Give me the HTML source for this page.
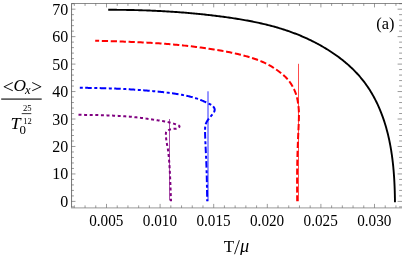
<!DOCTYPE html>
<html><head><meta charset="utf-8"><style>
html,body{margin:0;padding:0;background:#fff;}
body{width:402px;height:257px;overflow:hidden;}
svg{display:block;will-change:transform;}
text{font-family:"Liberation Serif",serif;fill:#000;}
</style></head><body>
<svg width="402" height="257" viewBox="0 0 402 257">

<path d="M71.55,208.0 V3.5 " stroke="#767676" stroke-width="1" fill="none"/><path d="M71.05,3.5 H402" stroke="#8c8c8c" stroke-width="1" fill="none"/>
<path d="M71.05,207.8 H402" stroke="#adadad" stroke-width="1.3" fill="none"/>
<path d="M74.34,207.8 v-2.4 M74.34,3.5 v2.4 M85.06,207.8 v-2.4 M85.06,3.5 v2.4 M95.78,207.8 v-2.4 M95.78,3.5 v2.4 M106.50,207.8 v-3.9 M106.50,3.5 v3.9 M117.22,207.8 v-2.4 M117.22,3.5 v2.4 M127.94,207.8 v-2.4 M127.94,3.5 v2.4 M138.66,207.8 v-2.4 M138.66,3.5 v2.4 M149.38,207.8 v-2.4 M149.38,3.5 v2.4 M160.10,207.8 v-3.9 M160.10,3.5 v3.9 M170.82,207.8 v-2.4 M170.82,3.5 v2.4 M181.54,207.8 v-2.4 M181.54,3.5 v2.4 M192.26,207.8 v-2.4 M192.26,3.5 v2.4 M202.98,207.8 v-2.4 M202.98,3.5 v2.4 M213.70,207.8 v-3.9 M213.70,3.5 v3.9 M224.42,207.8 v-2.4 M224.42,3.5 v2.4 M235.14,207.8 v-2.4 M235.14,3.5 v2.4 M245.86,207.8 v-2.4 M245.86,3.5 v2.4 M256.58,207.8 v-2.4 M256.58,3.5 v2.4 M267.30,207.8 v-3.9 M267.30,3.5 v3.9 M278.02,207.8 v-2.4 M278.02,3.5 v2.4 M288.74,207.8 v-2.4 M288.74,3.5 v2.4 M299.46,207.8 v-2.4 M299.46,3.5 v2.4 M310.18,207.8 v-2.4 M310.18,3.5 v2.4 M320.90,207.8 v-3.9 M320.90,3.5 v3.9 M331.62,207.8 v-2.4 M331.62,3.5 v2.4 M342.34,207.8 v-2.4 M342.34,3.5 v2.4 M353.06,207.8 v-2.4 M353.06,3.5 v2.4 M363.78,207.8 v-2.4 M363.78,3.5 v2.4 M374.50,207.8 v-3.9 M374.50,3.5 v3.9 M385.22,207.8 v-2.4 M385.22,3.5 v2.4 M395.94,207.8 v-2.4 M395.94,3.5 v2.4 M71.55,206.89 h2.4 M402.4,206.89 h-3.3 M71.55,201.40 h3.9 M402.4,201.40 h-4.8 M71.55,195.91 h2.4 M402.4,195.91 h-3.3 M71.55,190.42 h2.4 M402.4,190.42 h-3.3 M71.55,184.92 h2.4 M402.4,184.92 h-3.3 M71.55,179.43 h2.4 M402.4,179.43 h-3.3 M71.55,173.94 h3.9 M402.4,173.94 h-4.8 M71.55,168.45 h2.4 M402.4,168.45 h-3.3 M71.55,162.96 h2.4 M402.4,162.96 h-3.3 M71.55,157.46 h2.4 M402.4,157.46 h-3.3 M71.55,151.97 h2.4 M402.4,151.97 h-3.3 M71.55,146.48 h3.9 M402.4,146.48 h-4.8 M71.55,140.99 h2.4 M402.4,140.99 h-3.3 M71.55,135.50 h2.4 M402.4,135.50 h-3.3 M71.55,130.00 h2.4 M402.4,130.00 h-3.3 M71.55,124.51 h2.4 M402.4,124.51 h-3.3 M71.55,119.02 h3.9 M402.4,119.02 h-4.8 M71.55,113.53 h2.4 M402.4,113.53 h-3.3 M71.55,108.04 h2.4 M402.4,108.04 h-3.3 M71.55,102.54 h2.4 M402.4,102.54 h-3.3 M71.55,97.05 h2.4 M402.4,97.05 h-3.3 M71.55,91.56 h3.9 M402.4,91.56 h-4.8 M71.55,86.07 h2.4 M402.4,86.07 h-3.3 M71.55,80.58 h2.4 M402.4,80.58 h-3.3 M71.55,75.08 h2.4 M402.4,75.08 h-3.3 M71.55,69.59 h2.4 M402.4,69.59 h-3.3 M71.55,64.10 h3.9 M402.4,64.10 h-4.8 M71.55,58.61 h2.4 M402.4,58.61 h-3.3 M71.55,53.12 h2.4 M402.4,53.12 h-3.3 M71.55,47.62 h2.4 M402.4,47.62 h-3.3 M71.55,42.13 h2.4 M402.4,42.13 h-3.3 M71.55,36.64 h3.9 M402.4,36.64 h-4.8 M71.55,31.15 h2.4 M402.4,31.15 h-3.3 M71.55,25.66 h2.4 M402.4,25.66 h-3.3 M71.55,20.16 h2.4 M402.4,20.16 h-3.3 M71.55,14.67 h2.4 M402.4,14.67 h-3.3 M71.55,9.18 h3.9 M402.4,9.18 h-4.8 M71.55,3.69 h2.4 M402.4,3.69 h-3.3" stroke="#555" stroke-width="0.6" fill="none"/>
<g fill="none" stroke-linecap="butt" stroke-linejoin="round">
<path d="M298.5,63.8 V201.2" stroke="#ff0000" stroke-width="1" stroke-opacity="0.7"/>
<path d="M208.0,91.3 V201.2" stroke="#0000ff" stroke-width="1" stroke-opacity="0.82"/>
<path d="M169.5,119.0 V200.5" stroke="#800080" stroke-width="1" stroke-opacity="0.68"/>
<path d="M108.20,9.80 L109.54,9.80 L110.88,9.80 L112.23,9.81 L113.57,9.81 L114.91,9.81 L116.25,9.82 L117.60,9.83 L118.94,9.84 L120.28,9.85 L121.62,9.87 L122.96,9.88 L124.31,9.90 L125.65,9.92 L126.99,9.94 L128.33,9.96 L129.67,9.99 L131.01,10.01 L132.36,10.04 L133.70,10.07 L135.04,10.10 L136.38,10.14 L137.72,10.17 L139.06,10.21 L140.40,10.25 L141.75,10.29 L143.09,10.33 L144.43,10.37 L145.77,10.42 L147.11,10.47 L148.45,10.52 L149.79,10.57 L151.13,10.63 L152.47,10.68 L153.81,10.74 L155.15,10.80 L156.49,10.86 L157.83,10.93 L159.17,10.99 L160.51,11.06 L161.85,11.13 L163.19,11.21 L164.53,11.28 L165.87,11.36 L167.21,11.43 L168.55,11.52 L169.89,11.60 L171.23,11.68 L172.57,11.77 L173.90,11.86 L175.24,11.95 L176.58,12.05 L177.92,12.14 L179.26,12.24 L180.59,12.34 L181.93,12.44 L183.27,12.55 L184.61,12.66 L185.94,12.76 L187.28,12.88 L188.62,12.99 L189.95,13.11 L191.29,13.23 L192.63,13.35 L193.96,13.47 L195.30,13.60 L196.63,13.72 L197.97,13.85 L199.30,13.99 L200.64,14.12 L201.97,14.26 L203.31,14.40 L204.64,14.54 L205.98,14.69 L207.31,14.84 L208.65,14.99 L209.98,15.14 L211.31,15.29 L212.65,15.45 L213.98,15.61 L215.31,15.77 L216.64,15.94 L217.98,16.11 L219.31,16.28 L220.64,16.45 L221.97,16.63 L223.30,16.80 L224.63,16.98 L225.96,17.17 L227.29,17.35 L228.62,17.54 L229.95,17.74 L231.28,17.93 L232.61,18.13 L233.94,18.33 L235.27,18.53 L236.60,18.74 L237.92,18.95 L239.25,19.17 L240.57,19.39 L241.90,19.61 L243.22,19.84 L244.55,20.07 L245.87,20.31 L247.19,20.55 L248.51,20.79 L249.83,21.04 L251.14,21.30 L252.46,21.55 L253.78,21.82 L255.09,22.09 L256.40,22.36 L257.72,22.64 L259.03,22.92 L260.34,23.21 L261.64,23.51 L262.95,23.81 L264.25,24.12 L265.56,24.43 L266.86,24.75 L268.16,25.07 L269.46,25.40 L270.75,25.74 L272.05,26.08 L273.34,26.43 L274.63,26.79 L275.92,27.15 L277.21,27.52 L278.49,27.90 L279.78,28.29 L281.06,28.68 L282.33,29.08 L283.61,29.48 L284.89,29.90 L286.16,30.32 L287.43,30.75 L288.69,31.19 L289.96,31.63 L291.22,32.08 L292.48,32.55 L293.74,33.02 L294.99,33.49 L296.25,33.98 L297.49,34.47 L298.74,34.97 L299.98,35.48 L301.22,36.00 L302.46,36.53 L303.69,37.07 L304.92,37.61 L306.14,38.16 L307.37,38.72 L308.58,39.29 L309.80,39.87 L311.01,40.45 L312.21,41.04 L313.41,41.65 L314.61,42.26 L315.80,42.88 L316.99,43.50 L318.18,44.14 L319.36,44.78 L320.53,45.44 L321.70,46.10 L322.86,46.77 L324.02,47.45 L325.18,48.14 L326.33,48.83 L327.47,49.54 L328.61,50.25 L329.74,50.98 L330.87,51.71 L331.99,52.45 L333.10,53.20 L334.21,53.95 L335.31,54.72 L336.41,55.50 L337.50,56.28 L338.58,57.08 L339.66,57.88 L340.73,58.69 L341.79,59.51 L342.84,60.34 L343.89,61.19 L344.93,62.04 L345.95,62.90 L346.97,63.77 L347.98,64.64 L348.98,65.53 L349.97,66.43 L350.96,67.34 L351.93,68.26 L352.89,69.19 L353.84,70.13 L354.78,71.08 L355.70,72.04 L356.62,73.01 L357.53,73.99 L358.42,74.98 L359.31,75.99 L360.18,77.00 L361.04,78.02 L361.88,79.05 L362.72,80.09 L363.54,81.13 L364.35,82.19 L365.15,83.26 L365.94,84.34 L366.71,85.43 L367.47,86.52 L368.22,87.63 L368.95,88.74 L369.67,89.86 L370.38,90.99 L371.08,92.13 L371.76,93.28 L372.43,94.44 L373.09,95.60 L373.74,96.77 L374.38,97.95 L375.00,99.13 L375.61,100.32 L376.21,101.52 L376.80,102.72 L377.38,103.93 L377.94,105.15 L378.49,106.37 L379.04,107.60 L379.57,108.83 L380.09,110.07 L380.59,111.31 L381.09,112.56 L381.58,113.81 L382.05,115.07 L382.52,116.33 L382.97,117.60 L383.41,118.87 L383.84,120.14 L384.27,121.42 L384.68,122.70 L385.08,123.98 L385.47,125.27 L385.85,126.55 L386.22,127.85 L386.58,129.14 L386.93,130.44 L387.27,131.74 L387.61,133.04 L387.93,134.34 L388.24,135.65 L388.55,136.96 L388.84,138.27 L389.13,139.58 L389.41,140.90 L389.67,142.21 L389.94,143.53 L390.19,144.85 L390.43,146.18 L390.67,147.50 L390.90,148.83 L391.12,150.15 L391.33,151.48 L391.53,152.81 L391.73,154.14 L391.92,155.48 L392.11,156.81 L392.28,158.14 L392.45,159.48 L392.61,160.81 L392.77,162.15 L392.92,163.49 L393.06,164.83 L393.20,166.17 L393.33,167.51 L393.45,168.85 L393.57,170.19 L393.68,171.53 L393.79,172.87 L393.89,174.21 L393.99,175.55 L394.08,176.89 L394.16,178.23 L394.25,179.57 L394.32,180.91 L394.39,182.25 L394.46,183.59 L394.52,184.93 L394.58,186.27 L394.63,187.61 L394.68,188.94 L394.72,190.28 L394.77,191.62 L394.80,192.95 L394.84,194.28 L394.87,195.62 L394.89,196.95 L394.92,198.28 L394.94,199.60 L394.95,200.93 L394.97,202.26" stroke="#000" stroke-width="1.9"/>
<path d="M95.20,40.75 L96.83,40.79 L98.46,40.84 L100.09,40.88 L101.72,40.93 L103.35,40.97 L104.98,41.02 L106.62,41.06 L108.25,41.11 L109.88,41.16 L111.51,41.20 L113.14,41.25 L114.77,41.30 L116.40,41.35 L118.03,41.41 L119.66,41.46 L121.29,41.52 L122.92,41.57 L124.55,41.63 L126.18,41.69 L127.81,41.75 L129.44,41.81 L131.07,41.88 L132.70,41.94 L134.33,42.01 L135.96,42.08 L137.59,42.16 L139.22,42.23 L140.85,42.31 L142.48,42.39 L144.11,42.48 L145.73,42.56 L147.36,42.65 L148.99,42.74 L150.62,42.84 L152.25,42.93 L153.88,43.03 L155.50,43.14 L157.13,43.25 L158.76,43.36 L160.39,43.47 L162.01,43.59 L163.64,43.71 L165.27,43.83 L166.89,43.96 L168.52,44.09 L170.14,44.23 L171.77,44.37 L173.39,44.51 L175.02,44.65 L176.64,44.81 L178.27,44.96 L179.89,45.12 L181.51,45.28 L183.14,45.45 L184.76,45.62 L186.38,45.79 L188.00,45.97 L189.62,46.16 L191.24,46.35 L192.86,46.54 L194.48,46.74 L196.10,46.94 L197.72,47.14 L199.34,47.35 L200.95,47.57 L202.57,47.79 L204.18,48.02 L205.80,48.25 L207.41,48.48 L209.03,48.72 L210.64,48.97 L212.25,49.22 L213.86,49.48 L215.47,49.74 L217.08,50.00 L218.69,50.27 L220.30,50.55 L221.91,50.84 L223.51,51.12 L225.12,51.42 L226.72,51.72 L228.32,52.03 L229.92,52.35 L231.52,52.68 L233.12,53.02 L234.71,53.37 L236.30,53.72 L237.89,54.09 L239.48,54.47 L241.06,54.86 L242.64,55.27 L244.22,55.69 L245.79,56.12 L247.36,56.56 L248.92,57.02 L250.49,57.50 L252.04,57.99 L253.59,58.50 L255.14,59.02 L256.68,59.56 L258.22,60.13 L259.74,60.72 L261.25,61.33 L262.75,61.97 L264.24,62.64 L265.71,63.34 L267.16,64.08 L268.60,64.85 L270.02,65.64 L271.43,66.47 L272.82,67.32 L274.20,68.20 L275.57,69.10 L276.92,70.02 L278.26,70.97 L279.58,71.94 L280.88,72.94 L282.15,73.97 L283.39,75.04 L284.59,76.14 L285.76,77.28 L286.88,78.46 L287.95,79.69 L288.97,80.96 L289.95,82.27 L290.88,83.62 L291.76,85.00 L292.58,86.41 L293.36,87.85 L294.09,89.32 L294.76,90.81 L295.38,92.32 L295.93,93.86 L296.42,95.41 L296.85,96.98 L297.22,98.57 L297.55,100.17 L297.83,101.78 L298.07,103.40 L298.29,105.02 L298.49,106.64 L298.66,108.27 L298.79,109.89 L298.88,111.52 L298.93,113.15 L298.95,114.78 L298.93,116.41 L298.90,118.04 L298.86,119.67 L298.80,121.30 L298.74,122.93 L298.68,124.56 L298.61,126.19 L298.53,127.82 L298.46,129.45 L298.38,131.08 L298.31,132.71 L298.23,134.34 L298.16,135.97 L298.09,137.60 L298.02,139.23 L297.96,140.86 L297.89,142.49 L297.83,144.12 L297.77,145.75 L297.72,147.38 L297.66,149.01 L297.61,150.64 L297.55,152.27 L297.50,153.90 L297.46,155.53 L297.41,157.16 L297.37,158.79 L297.33,160.42 L297.29,162.05 L297.26,163.68 L297.23,165.32 L297.20,166.95 L297.18,168.58 L297.16,170.21 L297.14,171.84 L297.13,173.47 L297.12,175.10 L297.11,176.73 L297.10,178.36 L297.10,179.99 L297.10,181.63 L297.10,183.26 L297.10,184.89 L297.11,186.52 L297.11,188.15 L297.12,189.78 L297.13,191.41 L297.14,193.04 L297.15,194.67 L297.16,196.31 L297.18,197.94 L297.19,199.57 L297.20,201.20" stroke="#ff0000" stroke-width="2.0" stroke-dasharray="6.25 2.67" stroke-dashoffset="2.3"/>
<path d="M79.80,87.75 L80.58,87.76 L81.36,87.77 L82.15,87.79 L82.93,87.80 L83.71,87.81 L84.49,87.82 L85.28,87.83 L86.06,87.85 L86.84,87.86 L87.62,87.87 L88.41,87.89 L89.19,87.90 L89.97,87.91 L90.75,87.93 L91.54,87.94 L92.32,87.95 L93.10,87.97 L93.88,87.98 L94.66,88.00 L95.45,88.02 L96.23,88.03 L97.01,88.05 L97.79,88.06 L98.58,88.08 L99.36,88.10 L100.14,88.12 L100.92,88.14 L101.70,88.16 L102.49,88.18 L103.27,88.20 L104.05,88.22 L104.83,88.24 L105.61,88.26 L106.40,88.29 L107.18,88.31 L107.96,88.33 L108.74,88.36 L109.53,88.38 L110.31,88.41 L111.09,88.44 L111.87,88.47 L112.65,88.49 L113.43,88.52 L114.22,88.55 L115.00,88.59 L115.78,88.62 L116.56,88.65 L117.34,88.68 L118.13,88.72 L118.91,88.75 L119.69,88.79 L120.47,88.83 L121.25,88.87 L122.03,88.90 L122.82,88.94 L123.60,88.98 L124.38,89.02 L125.16,89.07 L125.94,89.11 L126.72,89.15 L127.50,89.20 L128.28,89.24 L129.06,89.29 L129.85,89.34 L130.63,89.39 L131.41,89.44 L132.19,89.49 L132.97,89.54 L133.75,89.59 L134.53,89.64 L135.31,89.70 L136.09,89.75 L136.87,89.81 L137.65,89.86 L138.43,89.92 L139.21,89.98 L139.99,90.04 L140.77,90.10 L141.55,90.16 L142.33,90.22 L143.11,90.28 L143.89,90.35 L144.67,90.41 L145.45,90.48 L146.23,90.54 L147.01,90.61 L147.79,90.67 L148.57,90.74 L149.35,90.81 L150.13,90.88 L150.91,90.95 L151.69,91.02 L152.47,91.09 L153.25,91.16 L154.03,91.24 L154.81,91.31 L155.58,91.38 L156.36,91.46 L157.14,91.53 L157.92,91.61 L158.70,91.69 L159.48,91.77 L160.26,91.85 L161.04,91.93 L161.82,92.01 L162.59,92.09 L163.37,92.18 L164.15,92.26 L164.93,92.35 L165.70,92.44 L166.48,92.53 L167.26,92.63 L168.04,92.72 L168.81,92.82 L169.59,92.92 L170.36,93.02 L171.14,93.12 L171.91,93.23 L172.69,93.33 L173.46,93.45 L174.24,93.56 L175.01,93.67 L175.79,93.79 L176.56,93.91 L177.33,94.04 L178.10,94.16 L178.87,94.29 L179.64,94.43 L180.42,94.56 L181.18,94.70 L181.95,94.85 L182.72,94.99 L183.49,95.14 L184.26,95.30 L185.02,95.46 L185.79,95.62 L186.55,95.79 L187.32,95.96 L188.08,96.14 L188.84,96.32 L189.60,96.50 L190.36,96.69 L191.12,96.89 L191.88,97.09 L192.64,97.30 L193.39,97.51 L194.14,97.73 L194.89,97.95 L195.64,98.18 L196.39,98.42 L197.13,98.67 L197.87,98.93 L198.60,99.19 L199.34,99.46 L200.07,99.74 L200.79,100.03 L201.51,100.33 L202.23,100.63 L202.95,100.94 L203.66,101.26 L204.38,101.58 L205.09,101.90 L205.80,102.23 L206.51,102.56 L207.22,102.90 L207.93,103.23 L208.64,103.57 L209.35,103.91 L210.06,104.26 L210.75,104.63 L211.42,105.04 L212.06,105.48 L212.67,105.98 L213.24,106.54 L213.76,107.17 L214.19,107.86 L214.51,108.58 L214.68,109.34 L214.69,110.11 L214.53,110.87 L214.25,111.63 L213.89,112.35 L213.47,113.03 L213.01,113.67 L212.53,114.29 L212.03,114.88 L211.52,115.47 L211.00,116.05 L210.49,116.64 L209.98,117.23 L209.48,117.83 L208.99,118.44 L208.51,119.07 L208.05,119.70 L207.60,120.35 L207.18,121.01 L206.78,121.70 L206.41,122.39 L206.09,123.11 L205.81,123.84 L205.58,124.58 L205.41,125.34 L205.28,126.11 L205.20,126.89 L205.15,127.68 L205.11,128.47 L205.09,129.25 L205.08,130.04 L205.08,130.83 L205.07,131.61 L205.08,132.40 L205.09,133.18 L205.10,133.96 L205.12,134.74 L205.14,135.53 L205.16,136.31 L205.19,137.09 L205.22,137.87 L205.25,138.64 L205.28,139.42 L205.31,140.20 L205.34,140.98 L205.37,141.76 L205.41,142.54 L205.44,143.32 L205.48,144.10 L205.51,144.89 L205.55,145.67 L205.58,146.45 L205.62,147.23 L205.65,148.01 L205.69,148.79 L205.73,149.57 L205.76,150.35 L205.80,151.14 L205.84,151.92 L205.87,152.70 L205.91,153.48 L205.94,154.26 L205.98,155.05 L206.01,155.83 L206.05,156.61 L206.09,157.39 L206.12,158.18 L206.15,158.96 L206.19,159.74 L206.22,160.52 L206.25,161.31 L206.29,162.09 L206.32,162.87 L206.35,163.65 L206.38,164.44 L206.41,165.22 L206.44,166.00 L206.46,166.78 L206.49,167.57 L206.52,168.35 L206.54,169.13 L206.57,169.91 L206.59,170.69 L206.62,171.48 L206.64,172.26 L206.66,173.04 L206.68,173.82 L206.71,174.61 L206.73,175.39 L206.75,176.17 L206.77,176.95 L206.79,177.74 L206.80,178.52 L206.82,179.30 L206.84,180.08 L206.86,180.86 L206.87,181.65 L206.89,182.43 L206.91,183.21 L206.92,183.99 L206.94,184.78 L206.95,185.56 L206.97,186.34 L206.98,187.12 L206.99,187.90 L207.01,188.69 L207.02,189.47 L207.03,190.25 L207.05,191.03 L207.06,191.81 L207.07,192.60 L207.08,193.38 L207.10,194.16 L207.11,194.94 L207.12,195.73 L207.13,196.51 L207.14,197.29 L207.15,198.07 L207.17,198.85 L207.18,199.64 L207.19,200.42 L207.20,201.20" stroke="#0000ff" stroke-width="2.0" stroke-dasharray="3 2.4 6.55 2.56"/>
<path d="M78.50,114.80 L79.12,114.81 L79.75,114.82 L80.37,114.82 L81.00,114.83 L81.62,114.84 L82.25,114.85 L82.87,114.86 L83.50,114.86 L84.12,114.87 L84.75,114.88 L85.37,114.89 L86.00,114.90 L86.62,114.91 L87.25,114.92 L87.87,114.92 L88.50,114.93 L89.12,114.94 L89.75,114.95 L90.37,114.96 L90.99,114.97 L91.62,114.99 L92.24,115.00 L92.87,115.01 L93.49,115.02 L94.12,115.03 L94.74,115.05 L95.36,115.06 L95.99,115.07 L96.61,115.09 L97.24,115.10 L97.86,115.11 L98.48,115.13 L99.11,115.14 L99.73,115.16 L100.36,115.18 L100.98,115.19 L101.60,115.21 L102.23,115.23 L102.85,115.25 L103.48,115.27 L104.10,115.28 L104.72,115.30 L105.35,115.32 L105.97,115.35 L106.60,115.37 L107.22,115.39 L107.85,115.41 L108.47,115.43 L109.10,115.46 L109.72,115.48 L110.35,115.51 L110.97,115.53 L111.60,115.56 L112.22,115.59 L112.85,115.61 L113.47,115.64 L114.10,115.67 L114.72,115.70 L115.35,115.73 L115.97,115.76 L116.60,115.79 L117.22,115.83 L117.85,115.86 L118.48,115.89 L119.10,115.93 L119.73,115.96 L120.35,116.00 L120.98,116.04 L121.61,116.08 L122.23,116.12 L122.86,116.16 L123.48,116.20 L124.11,116.24 L124.73,116.29 L125.36,116.33 L125.98,116.38 L126.60,116.42 L127.23,116.47 L127.85,116.52 L128.47,116.57 L129.10,116.62 L129.72,116.68 L130.34,116.73 L130.96,116.79 L131.58,116.84 L132.20,116.90 L132.82,116.96 L133.44,117.02 L134.06,117.08 L134.68,117.15 L135.30,117.21 L135.91,117.28 L136.53,117.35 L137.14,117.42 L137.76,117.49 L138.37,117.56 L138.99,117.63 L139.60,117.71 L140.21,117.79 L140.83,117.87 L141.44,117.94 L142.05,118.03 L142.67,118.11 L143.28,118.19 L143.89,118.27 L144.51,118.36 L145.12,118.45 L145.73,118.53 L146.35,118.62 L146.97,118.71 L147.58,118.80 L148.20,118.89 L148.82,118.98 L149.44,119.07 L150.06,119.16 L150.69,119.25 L151.31,119.35 L151.94,119.44 L152.56,119.54 L153.19,119.63 L153.82,119.72 L154.46,119.82 L155.09,119.91 L155.73,120.01 L156.37,120.10 L157.01,120.20 L157.65,120.30 L158.29,120.39 L158.93,120.49 L159.57,120.59 L160.20,120.69 L160.84,120.79 L161.47,120.90 L162.10,121.00 L162.73,121.11 L163.35,121.21 L163.97,121.32 L164.58,121.43 L165.19,121.55 L165.79,121.66 L166.38,121.78 L166.97,121.90 L167.55,122.02 L168.12,122.15 L168.68,122.28 L169.24,122.41 L169.78,122.54 L170.32,122.68 L170.86,122.83 L171.40,122.98 L171.95,123.14 L172.52,123.31 L173.10,123.48 L173.70,123.67 L174.32,123.87 L174.98,124.09 L175.67,124.32 L176.40,124.56 L177.16,124.83 L177.91,125.11 L178.58,125.43 L179.11,125.79 L179.44,126.19 L179.49,126.64 L179.25,127.14 L178.79,127.63 L178.22,128.05 L177.62,128.35 L177.02,128.56 L176.40,128.68 L175.78,128.74 L175.16,128.77 L174.53,128.78 L173.91,128.80 L173.30,128.85 L172.69,128.92 L172.09,129.02 L171.48,129.14 L170.87,129.29 L170.26,129.46 L169.64,129.65 L169.02,129.86 L168.39,130.10 L167.79,130.38 L167.24,130.70 L166.76,131.07 L166.39,131.52 L166.12,132.05 L165.97,132.63 L165.89,133.26 L165.87,133.92 L165.88,134.59 L165.91,135.26 L165.95,135.91 L165.98,136.54 L166.03,137.17 L166.07,137.79 L166.13,138.40 L166.19,139.01 L166.25,139.61 L166.33,140.22 L166.41,140.83 L166.50,141.44 L166.60,142.05 L166.71,142.66 L166.82,143.28 L166.93,143.89 L167.04,144.51 L167.16,145.13 L167.28,145.75 L167.39,146.36 L167.50,146.98 L167.61,147.60 L167.72,148.22 L167.82,148.84 L167.92,149.46 L168.01,150.08 L168.10,150.70 L168.18,151.32 L168.26,151.94 L168.34,152.56 L168.42,153.18 L168.49,153.80 L168.55,154.42 L168.62,155.04 L168.68,155.66 L168.74,156.28 L168.80,156.91 L168.86,157.53 L168.91,158.15 L168.97,158.77 L169.02,159.39 L169.07,160.01 L169.12,160.63 L169.17,161.26 L169.22,161.88 L169.26,162.50 L169.31,163.12 L169.35,163.75 L169.40,164.37 L169.44,164.99 L169.48,165.62 L169.52,166.24 L169.56,166.86 L169.60,167.49 L169.64,168.11 L169.67,168.73 L169.71,169.36 L169.74,169.98 L169.78,170.61 L169.81,171.23 L169.84,171.85 L169.88,172.48 L169.91,173.10 L169.94,173.73 L169.97,174.35 L170.00,174.98 L170.03,175.60 L170.06,176.23 L170.08,176.85 L170.11,177.48 L170.14,178.10 L170.17,178.72 L170.19,179.35 L170.22,179.97 L170.25,180.60 L170.27,181.22 L170.30,181.85 L170.32,182.47 L170.35,183.10 L170.37,183.72 L170.40,184.35 L170.42,184.97 L170.45,185.59 L170.47,186.22 L170.49,186.84 L170.52,187.47 L170.54,188.09 L170.56,188.72 L170.59,189.34 L170.61,189.96 L170.63,190.59 L170.65,191.21 L170.68,191.84 L170.70,192.46 L170.72,193.09 L170.74,193.71 L170.76,194.33 L170.79,194.96 L170.81,195.58 L170.83,196.21 L170.85,196.83 L170.87,197.45 L170.89,198.08 L170.91,198.70 L170.94,199.33 L170.96,199.95 L170.98,200.58 L171.00,201.20" stroke="#800080" stroke-width="2.0" stroke-dasharray="3.0 2.6"/>
</g>
<g font-size="16px"><text transform="translate(106.3,225.6) scale(0.95,1)" text-anchor="middle">0.005</text><text transform="translate(159.9,225.6) scale(0.95,1)" text-anchor="middle">0.010</text><text transform="translate(213.5,225.6) scale(0.95,1)" text-anchor="middle">0.015</text><text transform="translate(267.1,225.6) scale(0.95,1)" text-anchor="middle">0.020</text><text transform="translate(320.7,225.6) scale(0.95,1)" text-anchor="middle">0.025</text><text transform="translate(374.3,225.6) scale(0.95,1)" text-anchor="middle">0.030</text><text x="68.3" y="206.9" text-anchor="end">0</text><text x="68.3" y="179.4" text-anchor="end">10</text><text x="68.3" y="152.0" text-anchor="end">20</text><text x="68.3" y="124.5" text-anchor="end">30</text><text x="68.3" y="97.1" text-anchor="end">40</text><text x="68.3" y="69.6" text-anchor="end">50</text><text x="68.3" y="42.1" text-anchor="end">60</text><text x="68.3" y="14.7" text-anchor="end">70</text></g>
<text x="376.3" y="29.1" font-size="16.4px">(a)</text>
<text x="223.8" y="251.9" font-size="17px">T</text>
<path d="M234.5,254.2 L239.4,240.2" stroke="#000" stroke-width="0.9" fill="none"/>
<clipPath id="cm"><rect x="230" y="235" width="30" height="19.9"/></clipPath><text x="239.9" y="251.9" font-size="18.3px" font-style="italic" clip-path="url(#cm)">μ</text>
<g font-style="italic">
<text x="1.4" y="93.3" font-size="19.5px">&lt;</text>
<text x="13.6" y="91.4" font-size="17.3px">O</text>
<text x="25" y="93.7" font-size="12.5px">x</text>
<text x="29.9" y="93.3" font-size="19.5px">&gt;</text>
<text transform="translate(10.6,129.4) scale(1.08,1)" font-size="16.8px">T</text>
</g>
<text x="19.6" y="134.1" font-size="12.9px">0</text>
<text x="23.0" y="111.2" font-size="8.6px">25</text>
<text x="23.3" y="123.6" font-size="8.5px">12</text>
<rect x="1.2" y="98.4" width="40.5" height="1.4" fill="#3a3a3a"/>
<rect x="21.7" y="113.2" width="9.6" height="0.9" fill="#222"/>
</svg>
</body></html>
